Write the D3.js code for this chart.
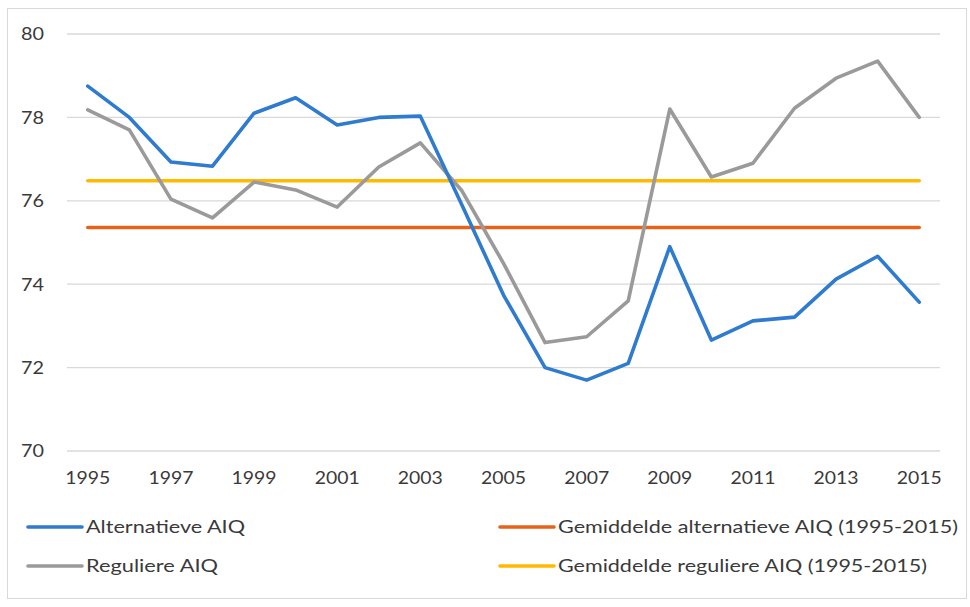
<!DOCTYPE html>
<html>
<head>
<meta charset="utf-8">
<script src="https://cdn.jsdelivr.net/npm/d3@7"></script>
<style>
  body { margin: 0; background: #fff; }
  svg text { font-family: Lato, "Open Sans", sans-serif; fill: #3a3a3a; }
</style>
</head>
<body>
<svg width="970" height="607"></svg>
<script>
const years = d3.range(1995, 2016);
const alternatief = [78.75, 78.0, 76.93, 76.83, 78.1, 78.47, 77.82, 78.0, 78.03, 75.9, 73.74,
  72.0, 71.7, 72.1, 74.9, 72.66, 73.12, 73.21, 74.12, 74.67, 73.57];
const regulier = [78.18, 77.7, 76.04, 75.59, 76.45, 76.26, 75.85, 76.81, 77.39, 76.24, 74.5,
  72.6, 72.74, 73.6, 78.2, 76.57, 76.9, 78.22, 78.94, 79.35, 78.0];
const gemAlternatief = 75.36;
const gemRegulier = 76.48;
const yTicks = [70, 72, 74, 76, 78, 80];
const xTickYears = [1995, 1997, 1999, 2001, 2003, 2005, 2007, 2009, 2011, 2013, 2015];

const series = [
  { name: "Alternatieve AIQ", values: alternatief, color: "#2e7bcf" },
  { name: "Reguliere AIQ", values: regulier, color: "#9a9a9a" },
  { name: "Gemiddelde alternatieve AIQ (1995-2015)", values: years.map(() => gemAlternatief), color: "#e8631a" },
  { name: "Gemiddelde reguliere AIQ (1995-2015)", values: years.map(() => gemRegulier), color: "#ffb900" }
];

const svg = d3.select("svg");

// outer frame
svg.append("rect")
  .attr("x", 7.5).attr("y", 8.5)
  .attr("width", 959).attr("height", 590)
  .attr("fill", "#fff")
  .attr("stroke", "#d9d9d9");

const x = d3.scalePoint().domain(years).range([67, 940]).padding(0.5);
const y = d3.scaleLinear().domain([70, 80]).range([451, 34]);

// gridlines
svg.append("g")
  .selectAll("line")
  .data(yTicks)
  .enter().append("line")
  .attr("x1", 67).attr("x2", 940)
  .attr("y1", d => y(d)).attr("y2", d => y(d))
  .attr("stroke", "#d9d9d9")
  .attr("stroke-width", 1.3);

// y labels
svg.append("g")
  .selectAll("text")
  .data(yTicks)
  .enter().append("text")
  .attr("x", 44)
  .attr("y", d => y(d))
  .attr("dy", "0.36em")
  .attr("text-anchor", "end")
  .attr("textLength", 23)
  .attr("lengthAdjust", "spacingAndGlyphs")
  .style("font-size", "18px")
  .text(d => d);

// x labels
svg.append("g")
  .selectAll("text")
  .data(xTickYears)
  .enter().append("text")
  .attr("x", d => x(d))
  .attr("y", 478)
  .attr("dy", "0.36em")
  .attr("text-anchor", "middle")
  .attr("textLength", 45)
  .attr("lengthAdjust", "spacingAndGlyphs")
  .style("font-size", "18px")
  .text(d => d);

const line = d3.line()
  .x((d, i) => x(years[i]))
  .y(d => y(d));

// averages first, series on top
const drawOrder = [series[2], series[3], series[1], series[0]];
svg.append("g")
  .selectAll("path")
  .data(drawOrder)
  .enter().append("path")
  .attr("d", d => line(d.values))
  .attr("fill", "none")
  .attr("stroke", d => d.color)
  .attr("stroke-width", 3.6)
  .attr("stroke-linejoin", "round")
  .attr("stroke-linecap", "round");

// legend
const legendPos = [
  { s: series[0], lx: 28, ly: 527, tw: 159 },
  { s: series[2], lx: 500, ly: 527, tw: 400 },
  { s: series[1], lx: 28, ly: 566, tw: 132 },
  { s: series[3], lx: 500, ly: 566, tw: 369 }
];

const items = svg.append("g")
  .selectAll("g")
  .data(legendPos)
  .enter().append("g")
  .attr("transform", d => `translate(${d.lx},${d.ly})`);

items.append("line")
  .attr("x1", 0).attr("x2", 54)
  .attr("stroke", d => d.s.color)
  .attr("stroke-width", 3.6)
  .attr("stroke-linecap", "round");

items.append("text")
  .attr("x", 58)
  .attr("dy", "0.36em")
  .attr("textLength", d => d.tw)
  .attr("lengthAdjust", "spacingAndGlyphs")
  .style("font-size", "18px")
  .text(d => d.s.name);
</script>
</body>
</html>
